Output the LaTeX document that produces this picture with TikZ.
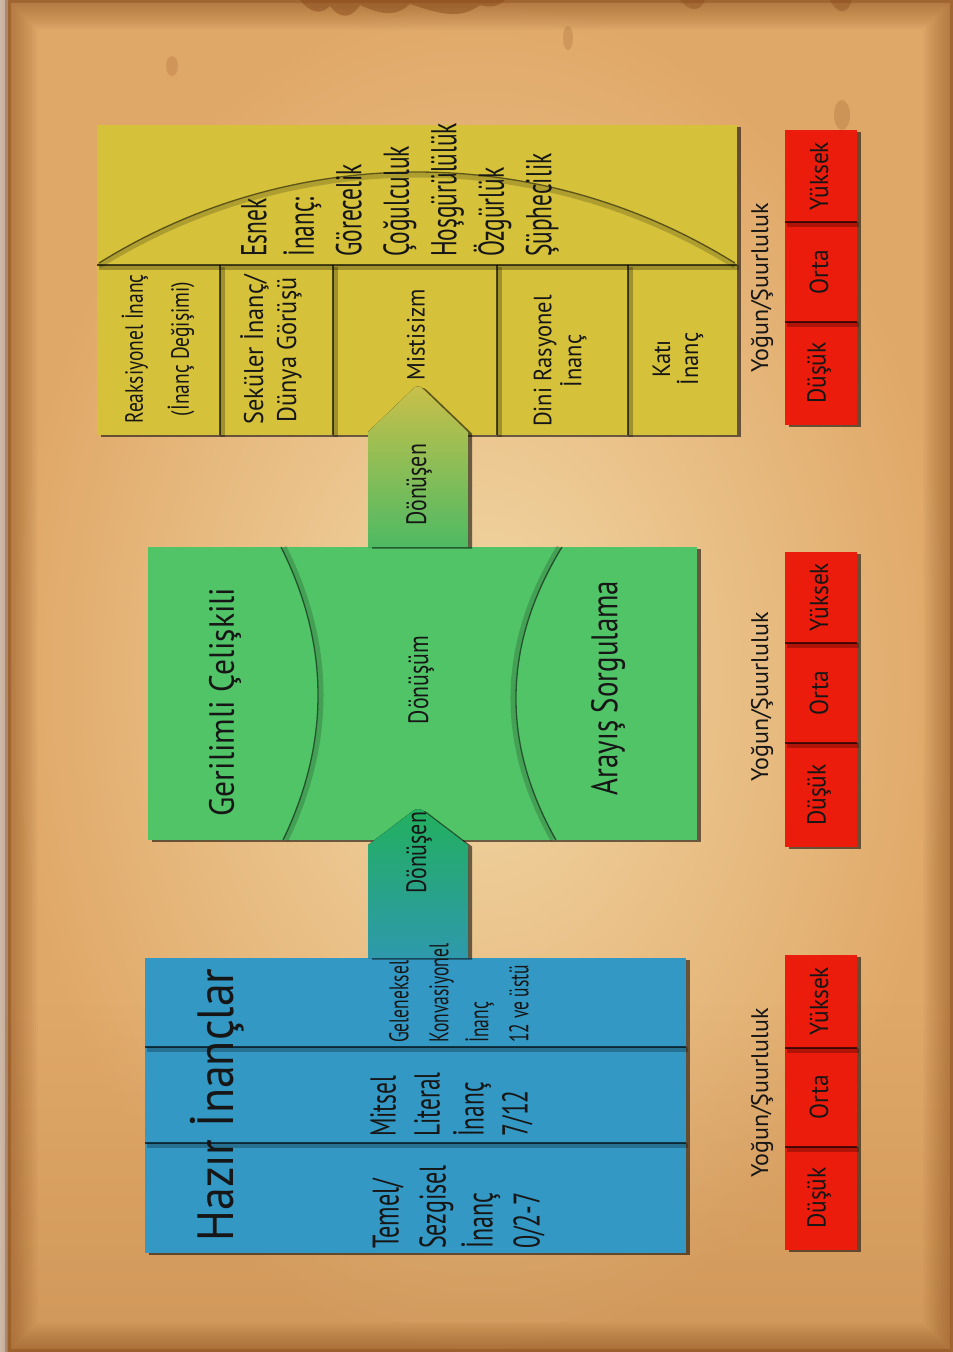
\documentclass[tikz,border=0pt]{standalone}
\usepackage{fontspec}
\setmainfont{PT Sans}
\newfontfamily\fA{PT Sans}[FakeStretch=0.65]
\newfontfamily\fB{PT Sans}[FakeStretch=0.78]
\newfontfamily\fC{PT Sans}[FakeStretch=0.9]
\newfontfamily\fD{PT Sans}
\usetikzlibrary{shadows,fadings}
\definecolor{parchA}{RGB}{242,216,166}
\definecolor{parchB}{RGB}{224,168,104}
\definecolor{parchC}{RGB}{130,68,22}
\definecolor{ybox}{RGB}{213,193,58}
\definecolor{gbox}{RGB}{82,196,104}
\definecolor{bbox}{RGB}{52,152,196}
\definecolor{rbox}{RGB}{236,28,12}
\definecolor{ink}{RGB}{22,22,22}
\definecolor{arrY}{RGB}{214,202,78}
\definecolor{arrG1}{RGB}{36,182,96}
\definecolor{arrB}{RGB}{48,158,178}
\newcommand{\myfs}[2]{\fontsize{#1}{#2}\selectfont}
\newcommand{\divline}[2]{%
  \draw[black,opacity=.25,line width=5pt,transform canvas={xshift=2pt,yshift=-2pt}] #1 -- #2;
  \draw[black,opacity=.65,line width=1.4pt] #1 -- #2;}
\begin{document}
\begin{tikzpicture}[x=1pt,y=-1pt,
  shd/.style={drop shadow={shadow xshift=4pt,shadow yshift=-1.5pt,opacity=.55,fill=black}},
  panel/.style={shd,inner sep=0pt,outer sep=0pt,draw=none},
  rt/.style={rotate=90,inner sep=0pt,text=ink},
  arcline/.style={draw=black,opacity=.55,line width=1.3pt},
  arcshade/.style={draw=black,opacity=.18,line width=5pt}]
\useasboundingbox (0,0) rectangle (953,1352);
% background
\fill[white] (0,0) rectangle (953,1352);
\shade[inner color=parchA,outer color=parchB] (8,0) rectangle (953,1352);
\fill[parchC,opacity=.16,path fading=north] (8,1000) rectangle (953,1352);
\foreach \w in {4,8,...,60}
  \draw[parchC,opacity=.035,line width=\w pt] (8,0) rectangle (953,1352);
\draw[parchC,opacity=.35,line width=6pt] (8,0) rectangle (953,1352);
\fill[parchC,opacity=.45] (300,0) .. controls (310,12) and (320,16) .. (330,6) .. controls (340,20) and (352,18) .. (360,5)
   .. controls (380,14) and (395,18) .. (410,4) .. controls (440,14) and (460,20) .. (480,5) .. controls (490,8) and (500,6) .. (505,0) -- cycle;
\fill[parchC,opacity=.35] (680,0) .. controls (690,12) and (700,12) .. (705,0) -- cycle;
\fill[parchC,opacity=.35] (830,0) .. controls (838,16) and (848,14) .. (852,0) -- cycle;
\fill[parchC,opacity=.18] (172,66) ellipse (6 and 10);
\fill[parchC,opacity=.18] (568,38) ellipse (5 and 12);
\fill[parchC,opacity=.2] (842,115) ellipse (8 and 15);

% yellow panel
\node[panel,fill=ybox,minimum width=640pt,minimum height=310pt] (Y) at (417,280) {};
\divline{(97,265)}{(737,265)}
\draw[arcshade,transform canvas={yshift=-3pt}] (99,263) arc[start angle=121.94,end angle=58.06,radius=601pt];
\draw[arcline] (99,263) arc[start angle=121.94,end angle=58.06,radius=601pt];
\foreach \xx in {220,333,497,628} {\divline{(\xx,265)}{(\xx,435)}}

% green panel
\node[panel,fill=gbox,minimum width=549pt,minimum height=293pt] (G) at (422.5,693.5) {};
\draw[arcshade,transform canvas={xshift=3pt}] (281,547) .. controls (329.7,644.3) and (330.3,742) .. (283,840);
\draw[arcline] (281,547) .. controls (329.7,644.3) and (330.3,742) .. (283,840);
\draw[arcshade,transform canvas={xshift=-3pt}] (562,547) .. controls (502.7,644.3) and (500.7,742) .. (556,840);
\draw[arcline] (562,547) .. controls (502.7,644.3) and (500.7,742) .. (556,840);

% blue panel
\node[panel,fill=bbox,minimum width=541pt,minimum height=295pt] (B) at (415.5,1105.5) {};
\divline{(145,1047)}{(686,1047)}
\divline{(145,1143)}{(686,1143)}

% block arrows
\coordinate (a1base) at (418,547);
\coordinate (a2base) at (418,958);
\fill[shd,top color=arrY,bottom color=gbox,opacity=.95]
  ([xshift=-50pt]a1base) -- (368,432) [rounded corners=6pt] -- (418,384) [sharp corners] -- (468,432) -- ([xshift=50pt]a1base) -- cycle;
\fill[shd,top color=arrG1,bottom color=arrB,opacity=.97]
  ([xshift=-50pt]a2base) -- (368,845) [rounded corners=6pt] -- (418,807) [sharp corners] -- (468,845) -- ([xshift=50pt]a2base) -- cycle;

% red scales
\foreach \n/\yc in {1/277.5,2/699.5,3/1102.5}{
  \node[panel,fill=rbox,minimum width=72pt,minimum height=295pt] (R\n) at (821,\yc) {};
}
\divline{(785,222)}{(857,222)} \divline{(785,322)}{(857,322)}
\divline{(785,643)}{(857,643)} \divline{(785,743)}{(857,743)}
\divline{(785,1048)}{(857,1048)} \divline{(785,1147)}{(857,1147)}

% ---- texts ----
\node[rt,anchor=north west,align=left,font=\fA\myfs{36}{47.5}] (flex) at (241,257)
  {Esnek\\İnanç:\\Görecelik\\Çoğulculuk\\Hoşgürülülük\\Özgürlük\\Şüphecilik};
\node[rt,align=center,font=\fB\myfs{25}{46}] (reak) at (158,349) {Reaksiyonel İnanç\\(İnanç Değişimi)};
\node[rt,align=center,font=\fC\myfs{27}{33}] (sek) at (271,350) {Seküler İnanç/\\Dünya Görüşü};
\node[rt,align=center,font=\fC\myfs{25}{30}] (mis) at (416,335) {Mistisizm};
\node[rt,align=center,font=\fC\myfs{25}{30}] (dini) at (560,361) {Dini Rasyonel\\İnanç};
\node[rt,align=center,font=\fC\myfs{25}{28}] (kati) at (678,359) {Katı\\İnanç};

\node[rt,font=\fC\myfs{35}{40}] (ger) at (225,702) {Gerilimli Çelişkili};
\node[rt,font=\fB\myfs{28}{30}] (don) at (421,680) {Dönüşüm};
\node[rt,font=\fB\myfs{37}{40}] (ara) at (608,688) {Arayış Sorgulama};
\node[rt,font=\fB\myfs{28}{30}] (dn1) at (419,485) {Dönüşen};
\node[rt,font=\fB\myfs{28}{30}] (dn2) at (419,853) {Dönüşen};

\node[rt,font=\fC\myfs{51}{56}] (haz) at (217,1105) {Hazır İnançlar};
\node[rt,anchor=north west,align=left,font=\fA\myfs{37}{47}] (c1) at (372,1249)
  {Temel/\\Sezgisel\\İnanç\\0/2-7};
\node[rt,anchor=north west,align=left,font=\fA\myfs{36}{44}] (c2) at (370,1137)
  {Mitsel\\Literal\\İnanç\\7/12};
\node[rt,anchor=north west,align=left,font=\fA\myfs{27}{40}] (c3) at (389,1043)
  {Geleneksel\\Konvasiyonel\\İnanç\\12 ve üstü};

\foreach \n/\ya/\yb/\yc/\yl in {1/176/272/373/288,2/597/693/795/697,3/1001/1097/1198/1093}{
  \node[rt,font=\fC\myfs{26}{28}] at (819,\ya) {Yüksek};
  \node[rt,font=\fC\myfs{26}{28}] at (819,\yb) {Orta};
  \node[rt,font=\fC\myfs{26}{28}] at (819,\yc) {Düşük};
  \node[rt,font=\fD\myfs{24}{26}] (L\n) at (762,\yl) {Yoğun/Şuurluluk};
}
\end{tikzpicture}
\end{document}
